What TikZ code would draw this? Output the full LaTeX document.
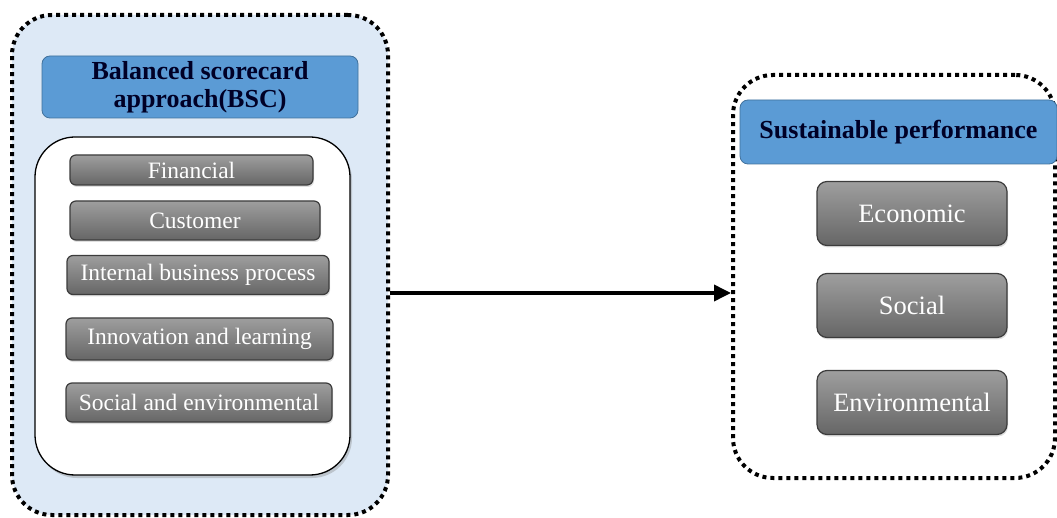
\documentclass[tikz,border=0pt]{standalone}
\usepackage{fontspec}
\setmainfont{Liberation Serif}
\usetikzlibrary{arrows.meta,shadows}

\definecolor{paleblue}{RGB}{221,233,246}
\definecolor{headblue}{RGB}{91,155,213}
\definecolor{headedge}{RGB}{65,113,156}
\definecolor{bardark}{RGB}{60,60,60}

\begin{document}
\begin{tikzpicture}[x=1pt,y=-1pt,
    frame/.style={draw=black, line width=4pt, dash pattern=on 4pt off 4pt,
        rounded corners=40pt},
    head/.style={draw=headedge, fill=headblue, line width=0.8pt, rounded corners=8pt,
        font=\bfseries\fontsize{26}{28}\selectfont, align=center, text=black!85!blue},
    panel/.style={draw=black, line width=1.3pt, fill=white, rounded corners=40pt,
        drop shadow={shadow xshift=2pt, shadow yshift=-3pt, opacity=0.35}},
    bar/.style={draw=bardark, line width=1.2pt, top color=black!38, bottom color=black!60,
        rounded corners=6pt, text=white, font=\fontsize{23.5}{26}\selectfont,
        drop shadow={shadow xshift=1pt, shadow yshift=-2pt, opacity=0.25}},
    item/.style={bar, rounded corners=10pt, font=\fontsize{26.5}{30}\selectfont,
        minimum width=190pt, minimum height=64pt},
    flow/.style={line width=3.6pt, -{Triangle[length=17pt,width=16pt]}}]
    \useasboundingbox (0,0) rectangle (1057,518);

    % left block
    \node[frame, fill=paleblue, minimum width=376pt, minimum height=500pt] (bsc) at (200,265) {};
    \node[head, minimum width=316pt, minimum height=62pt] (bschead) at (200,87)
        {Balanced scorecard\\approach(BSC)};
    \node[panel, minimum width=315pt, minimum height=338pt] (bscpanel) at (192.5,306) {};

    \node[bar, minimum width=243pt, minimum height=30pt] (fin) at (191.5,170) {Financial};
    \node[bar, minimum width=250pt, minimum height=39pt] (cust) at (195,220.5) {Customer};
    \node[bar, minimum width=262pt, minimum height=39pt] (ibp) at (198,275) {Internal business process};
    \node[bar, minimum width=267pt, minimum height=42pt] (inno) at (199.5,339) {Innovation and learning};
    \node[bar, minimum width=266pt, minimum height=39pt] (soenv) at (199,402.5) {Social and environmental};

    % right block
    \node[frame, minimum width=322pt, minimum height=403pt] (sp) at (894,276.5) {};
    \node[head, minimum width=317pt, minimum height=64pt] (sphead) at (898.5,132)
        {Sustainable performance};

    \node[item] (econ) at (912,213.5) {Economic};
    \node[item] (soc) at (912,305.5) {Social};
    \node[item] (env) at (912,402.5) {Environmental};

    \draw[flow] ([yshift=-28pt]bsc.east) -- ([yshift=-28pt]bsc.east -| sp.west);
\end{tikzpicture}
\end{document}
